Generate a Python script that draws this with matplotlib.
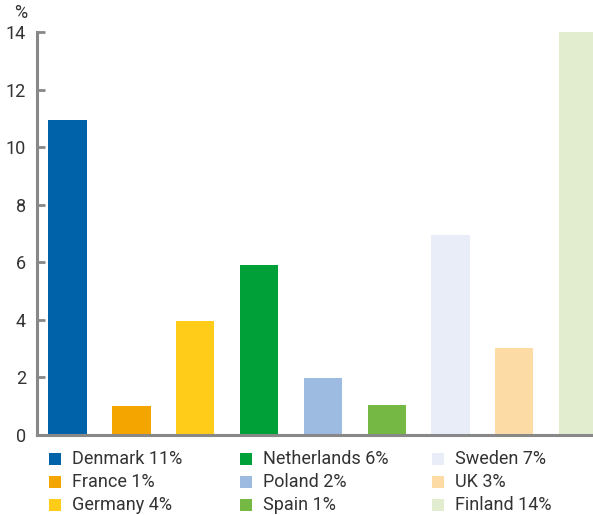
import matplotlib
matplotlib.use("Agg")
import matplotlib.pyplot as plt
from matplotlib.patches import Rectangle

countries = ["Denmark", "France", "Germany", "Netherlands", "Poland", "Spain", "Sweden", "UK", "Finland"]
values = [10.95, 1.0, 3.95, 5.9, 1.98, 1.04, 6.94, 3.02, 14.0]
labels = ["Denmark 11%", "France 1%", "Germany 4%", "Netherlands 6%", "Poland 2%", "Spain 1%",
          "Sweden 7%", "UK 3%", "Finland 14%"]
colors = ["#0063AA", "#F5A500", "#FFCC1A", "#00A038", "#9DBAE0", "#76B844", "#E8EDF8", "#FDDBA5", "#E1EDCE"]
yticks = [0, 2, 4, 6, 8, 10, 12, 14]

plt.rcParams['font.family'] = ['Roboto', 'DejaVu Sans']
txt = "#333333"
gray = "#888888"
W, H = 593, 515

fig = plt.figure(figsize=(W/100, H/100), dpi=100)
ax = fig.add_axes([37/W, 1-435/H, 1-37/W, (435-32)/H])
x = range(len(countries))
ax.bar(x, values, width=0.6, color=colors, zorder=2)
ax.set_xlim(-0.48, 8.234)
ax.set_ylim(0, 14)
ax.set_yticks(yticks)
ax.set_xticks([])
for s in ["top", "right"]:
    ax.spines[s].set_visible(False)
for s in ["left", "bottom"]:
    ax.spines[s].set_color(gray)
    ax.spines[s].set_linewidth(2.2)
ax.tick_params(axis='y', direction='in', length=6, width=2, color=gray,
               labelsize=13, labelcolor=txt, pad=8)
fig.text(21/W, 1-13/H, "%", fontsize=13, color=txt, ha='center', va='center')

# legend (3 columns, column-wise order)
col_x = [49, 240, 432]
row_y = [459, 482, 505]
for i, (lab, c) in enumerate(zip(labels, colors)):
    cx = col_x[i // 3]
    cy = row_y[i % 3]
    fig.patches.append(Rectangle((cx/W, 1-(cy+6)/H), 12/W, 12/H, transform=fig.transFigure,
                                 facecolor=c, edgecolor='none'))
    fig.text((cx+23)/W, 1-cy/H, lab, fontsize=13, color=txt, ha='left', va='center')

fig.savefig("out.png", dpi=100)
